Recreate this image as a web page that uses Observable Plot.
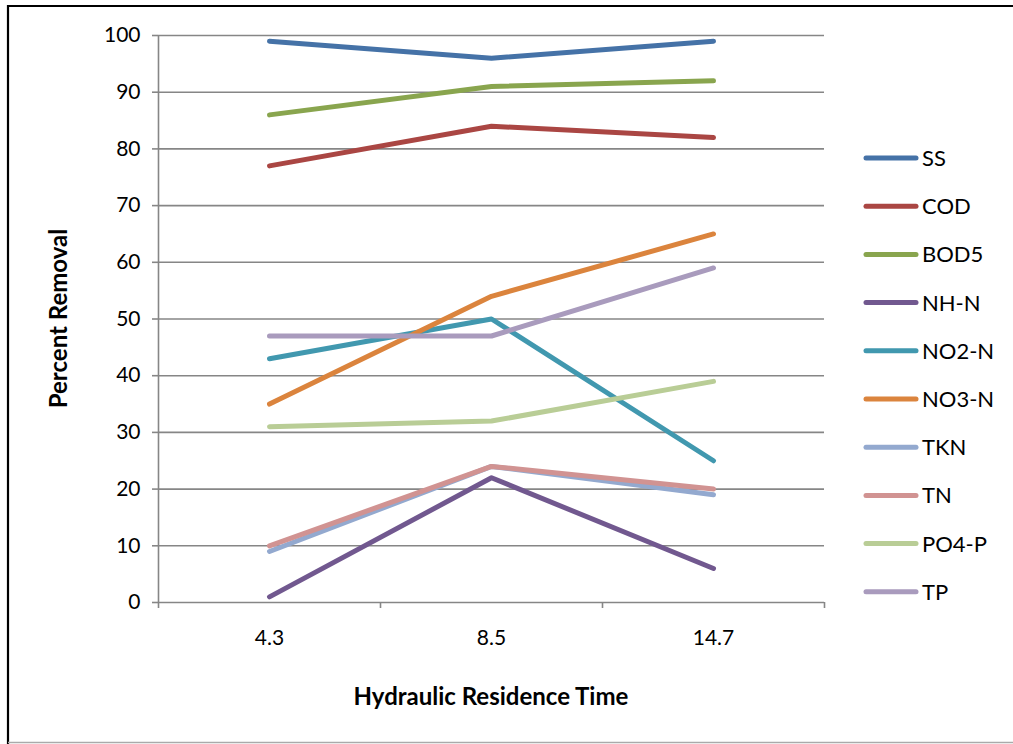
<!DOCTYPE html>
<html>
<head>
<meta charset="utf-8">
<script src="https://cdn.jsdelivr.net/npm/d3@7"></script>
<script src="https://cdn.jsdelivr.net/npm/@observablehq/plot@0.6"></script>
<style>
  html, body { margin: 0; padding: 0; background: #fff; }
  #chart { position: relative; width: 1013px; height: 744px; overflow: hidden; }
  svg { font-family: Lato, "DejaVu Sans", sans-serif; }
</style>
</head>
<body>
<div id="chart"></div>
<script>
// ---- data ----
const hrt = ["4.3", "8.5", "14.7"];
const seriesNames = ["SS", "COD", "BOD5", "NH-N", "NO2-N", "NO3-N", "TKN", "TN", "PO4-P", "TP"];
const SS    = [99, 96, 99];
const COD   = [77, 84, 82];
const BOD5  = [86, 91, 92];
const NH_N  = [1, 22, 6];
const NO2_N = [43, 50, 25];
const NO3_N = [35, 54, 65];
const TKN   = [9, 24, 19];
const TN    = [10, 24, 20];
const PO4_P = [31, 32, 39];
const TP    = [47, 47, 59];
const seriesColors = ["#4572A7", "#AA4643", "#89A54E", "#71588F", "#4198AF", "#DB843D", "#93A9CF", "#D19392", "#B9CD96", "#A99BBD"];
const yTicks = [0, 10, 20, 30, 40, 50, 60, 70, 80, 90, 100];

const allValues = [SS, COD, BOD5, NH_N, NO2_N, NO3_N, TKN, TN, PO4_P, TP];
const rows = [];
seriesNames.forEach((name, s) => {
  allValues[s].forEach((v, i) => rows.push({series: name, i, v}));
});

const W = 1013, H = 744;
const plot = Plot.plot({
  width: W,
  height: H,
  marginLeft: 158,
  marginRight: 189,
  marginTop: 35,
  marginBottom: 142,
  style: {fontFamily: "Lato, sans-serif", fontSize: "21px", color: "#000", background: "transparent", overflow: "visible"},
  x: {type: "linear", domain: [-0.5, 2.5]},
  y: {domain: [0, 100]},
  color: {domain: seriesNames, range: seriesColors},
  marks: [
    Plot.gridY(yTicks, {stroke: "#868686", strokeOpacity: 1, strokeWidth: 1.6}),
    Plot.ruleX([-0.5], {stroke: "#868686", strokeWidth: 1.6}),
    Plot.axisY({ticks: yTicks, tickSize: 6, tickPadding: 12, stroke: "#868686", strokeWidth: 1.6, label: null, fontSize: 21, fill: "#000"}),
    Plot.axisX({ticks: [-0.5, 0.5, 1.5, 2.5], tickSize: 6, tickFormat: () => "", stroke: "#868686", strokeWidth: 1.6, label: null}),
    Plot.axisX({ticks: [0, 1, 2], tickSize: 0, tickPadding: 28, tickFormat: i => hrt[i], label: null, fontSize: 21, fill: "#000"}),
    Plot.line(rows, {x: "i", y: "v", z: "series", stroke: "series", strokeWidth: 5, strokeLinecap: "round", strokeLinejoin: "round"})
  ]
});
document.getElementById("chart").appendChild(plot);

// ---- frame, axis titles and legend drawn into the same svg ----
const svg = d3.select(plot);
const yScale = plot.scale("y");
const xScale = plot.scale("x");

svg.append("line").attr("x1", 8).attr("x2", 8).attr("y1", 5).attr("y2", 744).attr("stroke", "#000").attr("stroke-width", 2.2);
svg.append("line").attr("x1", 7).attr("x2", 1013).attr("y1", 6).attr("y2", 6).attr("stroke", "#000").attr("stroke-width", 2.2);
svg.append("line").attr("x1", 8).attr("x2", 1013).attr("y1", 742.5).attr("y2", 742.5).attr("stroke", "#aaa").attr("stroke-width", 1.5);

const yMid = (yScale.range[0] + yScale.range[1]) / 2;
svg.append("text")
  .attr("transform", `translate(67,${yMid}) rotate(-90)`)
  .attr("text-anchor", "middle")
  .attr("font-weight", "bold")
  .attr("font-size", 24)
  .attr("fill", "#000")
  .text("Percent Removal");

const xMid = (xScale.range[0] + xScale.range[1]) / 2;
svg.append("text")
  .attr("x", xMid).attr("y", 705)
  .attr("text-anchor", "middle")
  .attr("font-weight", "bold")
  .attr("font-size", 24)
  .attr("fill", "#000")
  .text("Hydraulic Residence Time");

const leg = svg.append("g");
seriesNames.forEach((name, k) => {
  const cy = 158 + k * 48.2;
  leg.append("line").attr("x1", 866).attr("x2", 916).attr("y1", cy).attr("y2", cy)
    .attr("stroke", seriesColors[k]).attr("stroke-width", 5).attr("stroke-linecap", "round");
  leg.append("text").attr("x", 922).attr("y", cy + 8).attr("text-anchor", "start")
    .attr("font-size", 22).attr("fill", "#000").text(name);
});
</script>
</body>
</html>
